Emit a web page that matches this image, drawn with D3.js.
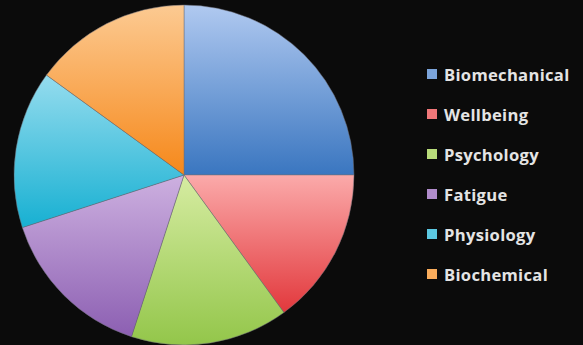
<!DOCTYPE html>
<html>
<head>
<meta charset="utf-8">
<script src="https://cdn.jsdelivr.net/npm/d3@7"></script>
<style>
  html, body { margin: 0; padding: 0; background: #0b0b0b; }
  svg { display: block; }
</style>
</head>
<body>
<svg id="chart" width="583" height="345"></svg>
<script>
// Share of each category (percent)
const categories = ["Biomechanical", "Wellbeing", "Psychology", "Fatigue", "Physiology", "Biochemical"];
const values = [25, 15, 15, 15, 15, 15];
// Light (top) and dark (bottom) tone of each slice
const lightColors = ["#b0c9f0", "#fbaaaa", "#d6eca2", "#cdb0e0", "#95dcee", "#fcca92"];
const darkColors  = ["#3a76c0", "#e2383c", "#93c64a", "#8c5fb2", "#17b0d2", "#f6881a"];

const svg = d3.select("#chart");
const cx = 184, cy = 175, R = 170;

const defs = svg.append("defs");
categories.forEach((c, i) => {
  const g = defs.append("linearGradient")
    .attr("id", "grad" + i)
    .attr("x1", 0).attr("y1", 0).attr("x2", 0).attr("y2", 1);
  g.append("stop").attr("offset", "0%").attr("stop-color", lightColors[i]);
  g.append("stop").attr("offset", "100%").attr("stop-color", darkColors[i]);
});

const color = d3.scaleOrdinal().domain(categories).range(categories.map((c, i) => "url(#grad" + i + ")"));
const swatch = d3.scaleOrdinal().domain(categories).range(categories.map((c, i) => d3.interpolateRgb(lightColors[i], darkColors[i])(0.45)));

const pie = d3.pie().sort(null).value(d => d.value);
const arc = d3.arc().innerRadius(0).outerRadius(R);
const data = categories.map((c, i) => ({ name: c, value: values[i] }));

const g = svg.append("g").attr("transform", `translate(${cx},${cy})`);
g.selectAll("path.slice")
  .data(pie(data))
  .join("path")
  .attr("class", "slice")
  .attr("d", arc)
  .attr("fill", d => color(d.data.name))
  .attr("stroke", "rgba(110,110,120,0.55)")
  .attr("stroke-width", 0.9);

// Legend
const legend = svg.append("g").attr("transform", "translate(427,69)");
const y = d3.scalePoint().domain(categories).range([0, 200]);
const rows = legend.selectAll("g.row").data(categories).join("g")
  .attr("class", "row")
  .attr("transform", d => `translate(0,${y(d)})`);
rows.append("rect")
  .attr("width", 10).attr("height", 10)
  .attr("fill", d => swatch(d));
rows.append("text")
  .attr("x", 17).attr("y", 11.8)
  .attr("fill", "#e4e4e4")
  .style("font-family", "'Open Sans', 'Liberation Sans', sans-serif")
  .style("font-weight", "bold")
  .style("font-size", "16.6px")
  .style("letter-spacing", "0.3px")
  .text(d => d);
</script>
</body>
</html>
